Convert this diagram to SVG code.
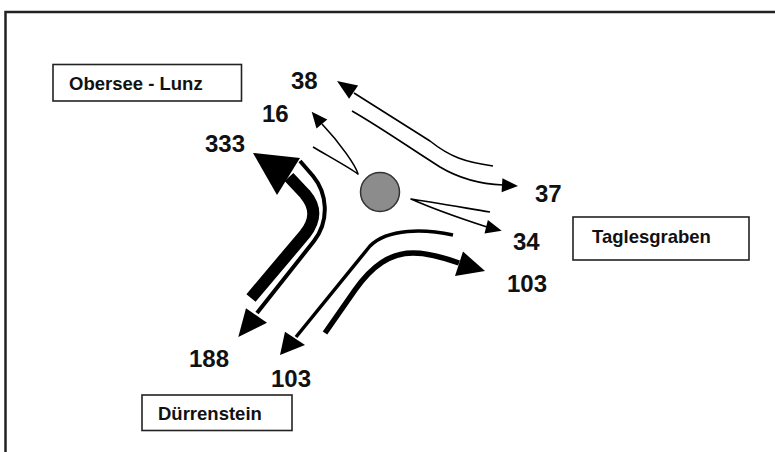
<svg xmlns="http://www.w3.org/2000/svg" width="775" height="452" viewBox="0 0 775 452">
<style>
.box{fill:#fff;stroke:#222;stroke-width:1.6}
.lbl{font-family:"Liberation Sans",Arial,sans-serif;font-weight:bold;font-size:18.5px;fill:#111}
.num{font-family:"Liberation Sans",Arial,sans-serif;font-weight:bold;font-size:24px;fill:#111}
.ln{fill:none;stroke:#000;stroke-linecap:butt;stroke-linejoin:round}
.hd{fill:#000;stroke:none}
</style>
<rect width="775" height="452" fill="#fff"/>
<path d="M5.5,452 V12 H775" fill="none" stroke="#222" stroke-width="2.5"/>

<g id="obersee-lunz">
<rect class="box" x="53" y="64.5" width="188.5" height="36.5"/>
<text class="lbl" x="69" y="90">Obersee - Lunz</text>
</g>
<g id="taglesgraben">
<rect class="box" x="573" y="217" width="176" height="43"/>
<text class="lbl" x="592" y="243">Taglesgraben</text>
</g>
<g id="duerrenstein">
<rect class="box" x="142" y="395" width="150" height="35.5"/>
<text class="lbl" x="158" y="420">Dürrenstein</text>
</g>
<g id="junction">
<circle cx="380" cy="192" r="19.5" fill="#8c8c8c" stroke="#333" stroke-width="1.5"/>
</g>

<g id="connectors">
<!-- 38 -->
<path class="ln" stroke-width="1.6" d="M493,166 C465,162 450,157 430,141 L354,93"/>
<polygon class="hd" points="337,81 358.1,85.6 349.1,98.8"/>
<!-- 37 -->
<path class="ln" stroke-width="1.6" d="M352,111 C380,127 410,148 440,167 C460,179 480,184 503,185"/>
<polygon class="hd" points="518,186 502.4,178.2 501.6,192.2"/>
<!-- 16 -->
<path class="ln" stroke-width="1.6" d="M313,147 C330,157 350,168 358,174 C356,166 340,143 322,124"/>
<polygon class="hd" points="311.7,111.7 327.3,119.5 316.5,128.5"/>
<!-- 34 -->
<path class="ln" stroke-width="1.6" d="M490,212 C460,207 425,201 411,199 C420,203 450,215 487,227"/>
<polygon class="hd" points="501.7,230.7 484.5,233.6 487.9,220"/>
<!-- 333 -->
<path class="ln" stroke-width="12" d="M251,298 L305,234 C316,220 316,207 305,194 L289,177"/>
<polygon class="hd" points="253,153 277,195 300,158"/>
<!-- 188 -->
<path class="ln" stroke-width="4" d="M300,161 L313,176 C327,193 330,220 314,241 L257,313"/>
<polygon class="hd" points="238.3,337 246,308.3 267,322.7"/>
<!-- 103 to Dürrenstein -->
<path class="ln" stroke-width="3.5" d="M453,235 C425,229 388,228 370,246 L296,337"/>
<polygon class="hd" points="280,355 285,331.7 305,345"/>
<!-- 103 to Taglesgraben -->
<path class="ln" stroke-width="5.5" d="M325,333 L355,290 C372,266 390,253 413,253 C430,253 445,258 459,263"/>
<polygon class="hd" points="485,271 463,251.5 455,276"/>
</g>

<g id="labels">
<text class="num" x="291" y="89">38</text>
<text class="num" x="262" y="122">16</text>
<text class="num" x="205" y="152">333</text>
<text class="num" x="535" y="202">37</text>
<text class="num" x="513" y="250">34</text>
<text class="num" x="507" y="292">103</text>
<text class="num" x="189" y="367">188</text>
<text class="num" x="271" y="387">103</text>
</g>
</svg>
